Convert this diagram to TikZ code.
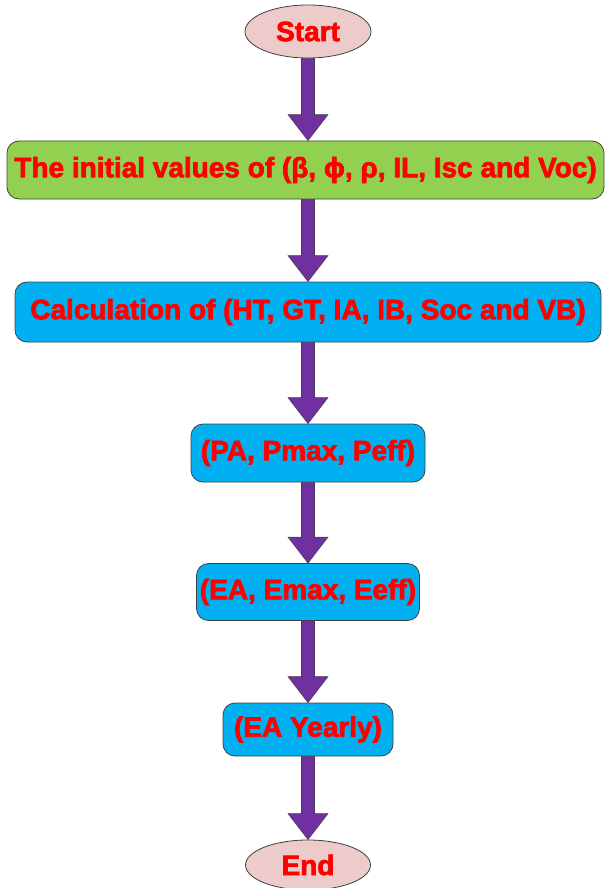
\documentclass[tikz,border=0pt]{standalone}
\usepackage{fontspec}
\setmainfont{Liberation Sans}[BoldFeatures={FakeBold=2.4}]
\usetikzlibrary{calc,shapes.geometric}
\definecolor{txtred}{HTML}{FF0000}
\definecolor{boxgreen}{HTML}{92D050}
\definecolor{boxblue}{HTML}{00B0F0}
\definecolor{ovalpink}{HTML}{EDCBCB}
\definecolor{arrpurple}{HTML}{7030A0}
\definecolor{edgegray}{HTML}{404040}
% #1 = top end coordinate, #2 = tip coordinate
\newcommand\flowarrow[2]{%
  \draw[arrsty] ($(#1)+(-6.5,0)$) -- ($(#2)+(-6.5,-26)$) -- ($(#2)+(-20,-26)$)
    -- (#2) -- ($(#2)+(20,-26)$) -- ($(#2)+(6.5,-26)$) -- ($(#1)+(6.5,0)$) -- cycle;}
\tikzset{
  every node/.style={font=\fontsize{21}{25}\selectfont\bfseries, text=txtred, inner sep=0pt},
  ovalbox/.style={ellipse, draw=edgegray, line width=0.6pt, fill=ovalpink},
  greenbox/.style={rectangle, rounded corners=9pt, draw=edgegray, line width=0.6pt, fill=boxgreen},
  bluebox/.style={rectangle, rounded corners=9pt, draw=edgegray, line width=0.6pt, fill=boxblue},
  arrsty/.style={fill=arrpurple, draw=edgegray!80!arrpurple, line width=0.4pt, line join=miter}
}
\begin{document}
\begin{tikzpicture}[x=0.75pt,y=-0.75pt]
\useasboundingbox (0,0) rectangle (605,888);
\node[ovalbox, minimum width=126*0.75pt, minimum height=53*0.75pt] (start) at (308,31.5) {Start};
\node[greenbox, minimum width=597*0.75pt, minimum height=58*0.75pt] (init) at (305.5,170) {The initial values of (β, ϕ, ρ, IL, Isc and Voc)};
\node[bluebox, minimum width=586*0.75pt, minimum height=60*0.75pt] (calc) at (308,312) {Calculation of (HT, GT, IA, IB, Soc and VB)};
\node[bluebox, minimum width=234*0.75pt, minimum height=58*0.75pt] (pow) at (308,453) {(PA, Pmax, Peff)};
\node[bluebox, minimum width=223*0.75pt, minimum height=57*0.75pt] (ene) at (308,592) {(EA, Emax, Eeff)};
\node[bluebox, minimum width=170*0.75pt, minimum height=53*0.75pt] (year) at (308,729.5) {(EA Yearly)};
\node[ovalbox, minimum width=125*0.75pt, minimum height=50*0.75pt] (end) at (308,865) {End};
\coordinate (initin) at (init.north -| start.south);
\coordinate (initout) at (init.south -| calc.north);
\flowarrow{start.south}{initin}
\flowarrow{initout}{calc.north}
\flowarrow{calc.south}{pow.north}
\flowarrow{pow.south}{ene.north}
\flowarrow{ene.south}{year.north}
\flowarrow{year.south}{end.north}
\end{tikzpicture}
\end{document}
